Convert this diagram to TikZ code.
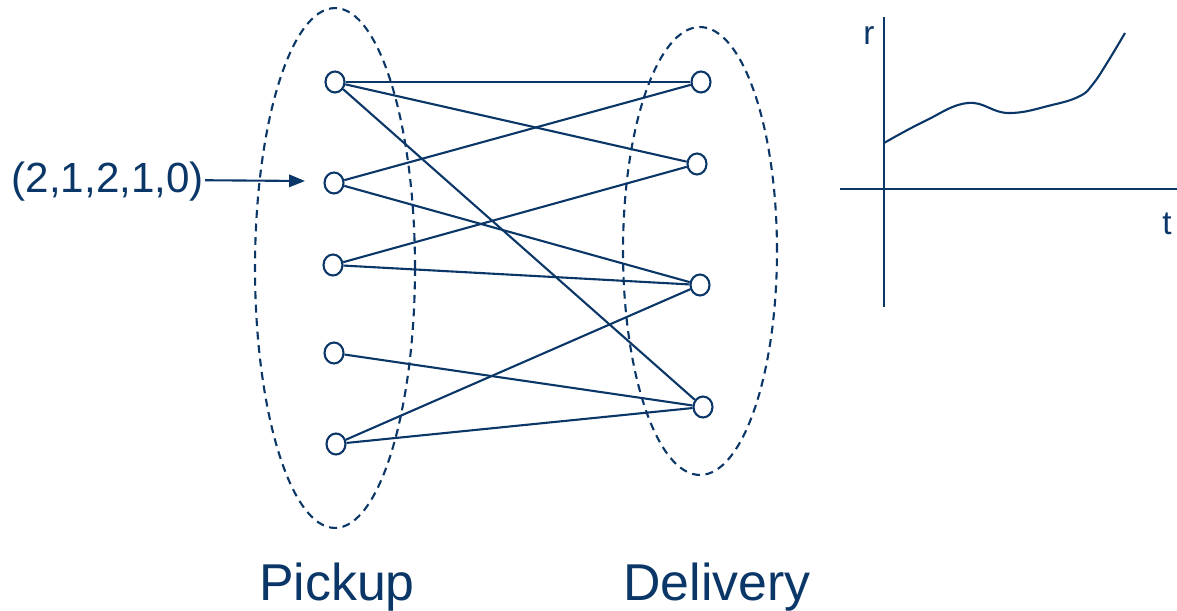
\documentclass[tikz,border=0pt]{standalone}
\usepackage{fontspec}
\setmainfont{Liberation Sans}
\usetikzlibrary{shapes.geometric,arrows.meta}
\definecolor{navy}{HTML}{0B3768}
\begin{document}
\begin{tikzpicture}[x=0.02cm,y=-0.02cm,
  every path/.style={line width=1.2pt},
  vtx/.style={draw=navy,fill=white,ellipse,minimum width=0.38cm,minimum height=0.42cm,inner sep=0pt,line width=1.2pt},
  edge/.style={draw=navy,line width=1.2pt},
  group/.style={draw=navy,dash pattern=on 4.5pt off 3.2pt,line width=1.2pt},
  lbl/.style={text=navy,inner sep=0pt}]
\useasboundingbox (0,0) rectangle (1177,611);
% groups
\draw[group] (335,268) ellipse [x radius=1.6cm, y radius=5.2cm];
\draw[group] (700,251) ellipse [x radius=1.54cm, y radius=4.48cm];
% pickup nodes
\node[vtx] (p1) at (335,82) {};
\node[vtx] (p2) at (334,183) {};
\node[vtx] (p3) at (333,265) {};
\node[vtx] (p4) at (334,353) {};
\node[vtx] (p5) at (336,444) {};
% delivery nodes
\node[vtx] (d1) at (701,82) {};
\node[vtx] (d2) at (697,164) {};
\node[vtx] (d3) at (700,285) {};
\node[vtx] (d4) at (703,407) {};
% edges
\draw[edge] (p1) -- (d1);
\draw[edge] (p1) -- (d2);
\draw[edge] (p1) -- (d4);
\draw[edge] (p2) -- (d1);
\draw[edge] (p2) -- (d3);
\draw[edge] (p3) -- (d2);
\draw[edge] (p3) -- (d3);
\draw[edge] (p4) -- (d4);
\draw[edge] (p5) -- (d3);
\draw[edge] (p5) -- (d4);
% label with arrow
\node[lbl,font=\fontsize{24}{28}\selectfont,anchor=east] (lab) at (205,182) {(2,1,2,1,0)};
\coordinate (tip) at (305,181);
\draw[edge,-{Triangle[length=9pt,width=7pt]}] ([yshift=1pt]lab.east) -- (tip);
% bottom labels
\node[lbl,font=\fontsize{29.5}{34}\selectfont,anchor=base] (pick) at (337,600) {Pickup};
\node[lbl,font=\fontsize{29.5}{34}\selectfont,anchor=base] (deli) at (717,600) {Delivery};
% chart
\coordinate (yb) at (884,307);
\coordinate (yt) at (884,17);
\coordinate (xl) at (840,189);
\coordinate (xr) at (1177,189);
\draw[edge] (yb) -- (yt);
\draw[edge] (xl) -- (xr);
\node[lbl,font=\fontsize{19}{21}\selectfont] (rlab) at (869,36) {r};
\node[lbl,font=\fontsize{19}{21}\selectfont] (tlab) at (1167,224) {t};
\draw[edge] plot[smooth,tension=0.7] coordinates {(884,143) (925,121) (968,103) (1008,113) (1052,105) (1080,96) (1093,84) (1107,63) (1125,33)};
\end{tikzpicture}
\end{document}
